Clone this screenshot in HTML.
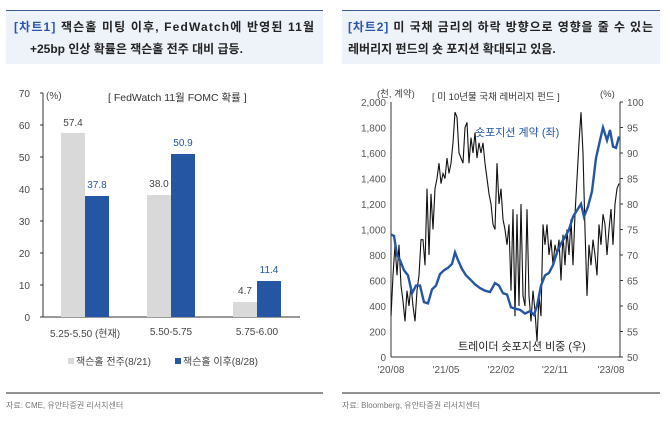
<!DOCTYPE html>
<html><head><meta charset="utf-8"><style>
body{margin:0;width:670px;height:416px;background:#fff;font-family:"Liberation Sans","Noto Sans CJK KR",sans-serif;overflow:hidden}
svg text{font-family:"Liberation Sans","Noto Sans CJK KR",sans-serif}
</style></head><body>
<svg id="s" width="670" height="416" xmlns="http://www.w3.org/2000/svg">
<rect x="6" y="10" width="317" height="54" fill="#eef3fa"/><line x1="6" y1="10.5" x2="323" y2="10.5" stroke="#3a5a8a"/>
<rect x="342" y="10" width="318" height="54" fill="#eef3fa"/><line x1="342" y1="10.5" x2="660" y2="10.5" stroke="#3a5a8a"/>
<text x="14" y="31" font-size="12" font-weight="bold" fill="#222" textLength="300" lengthAdjust="spacing"><tspan fill="#2b55a8">[차트1]</tspan> 잭슨홀 미팅 이후, FedWatch에 반영된 11월</text>
<text x="30" y="53" font-size="12" font-weight="bold" fill="#222">+25bp 인상 확률은 잭슨홀 전주 대비 급등.</text>
<text x="348" y="31" font-size="12" font-weight="bold" fill="#222" textLength="305" lengthAdjust="spacing"><tspan fill="#2b55a8">[차트2]</tspan> 미 국채 금리의 하락 방향으로 영향을 줄 수 있는</text>
<text x="348" y="53" font-size="12" font-weight="bold" fill="#222">레버리지 펀드의 숏 포지션 확대되고 있음.</text>
<g font-size="10" fill="#444" text-anchor="end">
<text x="30" y="97">70</text><text x="30" y="129">60</text><text x="30" y="161">50</text><text x="30" y="193">40</text><text x="30" y="225">30</text><text x="30" y="257">20</text><text x="30" y="289">10</text><text x="30" y="321">0</text></g>
<text x="46" y="99" font-size="10" fill="#444">(%)</text>
<text x="108" y="101" font-size="10.5" fill="#333">[ FedWatch 11월 FOMC 확률 ]</text>
<line x1="43" y1="93" x2="43" y2="317" stroke="#333"/><line x1="40" y1="317" x2="300" y2="317" stroke="#333"/>
<g stroke="#333"><line x1="40" y1="93" x2="43" y2="93"/><line x1="40" y1="125" x2="43" y2="125"/><line x1="40" y1="157" x2="43" y2="157"/><line x1="40" y1="189" x2="43" y2="189"/><line x1="40" y1="221" x2="43" y2="221"/><line x1="40" y1="253" x2="43" y2="253"/><line x1="40" y1="285" x2="43" y2="285"/></g>
<g fill="#d9d9d9"><rect x="61" y="133" width="24" height="184"/><rect x="147" y="195" width="24" height="122"/><rect x="233" y="302" width="24" height="15"/></g>
<g fill="#2456a4"><rect x="85" y="196" width="24" height="121"/><rect x="171" y="154" width="24" height="163"/><rect x="257" y="281" width="24" height="36"/></g>
<g font-size="10" text-anchor="middle"><text x="73" y="126" fill="#444">57.4</text><text x="97" y="188" fill="#2456a4">37.8</text><text x="159" y="187" fill="#444">38.0</text><text x="183" y="146" fill="#2456a4">50.9</text><text x="245" y="294" fill="#444">4.7</text><text x="269" y="273" fill="#2456a4">11.4</text>
<text x="85" y="337" fill="#444">5.25-5.50 (현재)</text><text x="171" y="335" fill="#444">5.50-5.75</text><text x="257" y="335" fill="#444">5.75-6.00</text></g>
<rect x="68" y="358" width="6" height="6" fill="#d9d9d9"/><text x="76" y="365" font-size="10" fill="#444">잭슨홀 전주(8/21)</text>
<rect x="175" y="358" width="6" height="6" fill="#2456a4"/><text x="183" y="365" font-size="10" fill="#444">잭슨홀 이후(8/28)</text>
<line x1="6" y1="393" x2="323" y2="393" stroke="#222"/><line x1="342" y1="393" x2="660" y2="393" stroke="#222"/>
<text x="6" y="408" font-size="8" fill="#777">자료: CME, 유안타증권 리서치센터</text>
<text x="342" y="408" font-size="8" fill="#777">자료: Bloomberg, 유안타증권 리서치센터</text>
<g font-size="10" fill="#555" text-anchor="end" id="ly"></g>
<g font-size="10" fill="#555" id="ry"></g>
<text x="377" y="97" font-size="9.5" fill="#444">(천, 계약)</text>
<text x="432" y="100" font-size="9.5" fill="#333">[ 미 10년물 국채 레버리지 펀드 ]</text>
<text x="600" y="97" font-size="9.5" fill="#444">(%)</text>
<line x1="391" y1="102" x2="391" y2="357" stroke="#333"/><line x1="620" y1="102" x2="620" y2="357" stroke="#333"/><line x1="391" y1="357" x2="620" y2="357" stroke="#333"/>
<g font-size="10" fill="#555" text-anchor="middle"><text x="391" y="373">'20/08</text><text x="446" y="373">'21/05</text><text x="501" y="373">'22/02</text><text x="555" y="373">'22/11</text><text x="611" y="373">'23/08</text></g>
<polyline id="bk" fill="none" stroke="#111" stroke-width="1.1"/>
<polyline id="bl" fill="none" stroke="#2456a4" stroke-width="2.4"/>
<text x="475" y="136" font-size="11" fill="#2456a4">숏포지션 계약 (좌)</text>
<text x="458" y="350" font-size="11" fill="#222">트레이더 숏포지션 비중 (우)</text>
</svg>
<script>
var NS="http://www.w3.org/2000/svg",ly=document.getElementById('ly'),ry=document.getElementById('ry');
for(var i=0;i<=10;i++){var v=i*200,y=357-i*25.5;var t=document.createElementNS(NS,'text');t.setAttribute('x',386);t.setAttribute('y',y+4);t.textContent=v>=1000?(v/1000|0)+','+String(v%1000).padStart(3,'0'):v;ly.appendChild(t);
var l=document.createElementNS(NS,'line');l.setAttribute('x1',620);l.setAttribute('x2',623);l.setAttribute('y1',y);l.setAttribute('y2',y);l.setAttribute('stroke','#333');ry.appendChild(l);
var t2=document.createElementNS(NS,'text');t2.setAttribute('x',627);t2.setAttribute('y',y+4);t2.textContent=50+i*5;ry.appendChild(t2);}
var bl=[[391,960],[394,950],[397,800],[400,760],[404,680],[408,640],[412,500],[416,560],[420,560],[424,430],[428,420],[432,530],[436,560],[440,650],[444,680],[448,700],[452,730],[455,820],[458,760],[462,690],[466,640],[470,610],[475,570],[480,540],[485,520],[490,510],[495,580],[499,560],[503,500],[507,490],[511,390],[515,380],[520,370],[525,340],[530,360],[534,330],[537,400],[541,560],[545,640],[549,660],[553,720],[557,820],[561,890],[565,940],[569,1000],[573,1100],[577,1150],[581,1200],[584,1100],[588,1180],[592,1300],[596,1560],[600,1700],[603,1800],[607,1700],[610,1780],[613,1650],[616,1640],[619,1730]];
document.getElementById('bl').setAttribute('points',bl.map(p=>p[0]+','+(357-p[1]*0.1275).toFixed(1)).join(' '));
var bk=[[391,58],[393,66],[395,72],[397,66],[399,72],[401,64],[403,61],[405,57],[407,63],[409,60],[411,64],[413,60],[415,57],[417,63],[419,66],[421,73],[423,73],[425,68],[427,83],[429,70],[431,82],[433,75],[435,83],[437,85],[439,88],[441,84],[443,86],[445,85],[447,89],[449,86],[451,88],[453,92],[455,98],[457,97],[459,90],[461,89],[463,88],[465,95],[467,96],[469,88],[471,93],[473,90],[475,94],[477,89],[479,92],[481,90],[483,92],[485,88],[487,85],[489,82],[491,80],[493,76],[495,75],[497,88],[499,80],[501,83],[503,77],[505,75],[507,72],[509,76],[511,63],[513,79],[515,58],[517,78],[519,60],[521,80],[523,62],[525,60],[527,79],[529,62],[531,57],[533,63],[535,59],[537,53],[539,62],[541,58],[543,76],[545,72],[547,76],[549,70],[551,73],[553,68],[555,72],[557,70],[559,73],[561,65],[563,74],[565,68],[567,75],[569,70],[571,77],[573,68],[575,78],[577,85],[579,92],[581,98],[583,90],[585,75],[587,62],[589,72],[591,68],[593,73],[595,70],[597,66],[599,76],[601,72],[603,78],[605,76],[607,70],[609,75],[611,79],[613,72],[615,80],[617,83],[619,84]];
document.getElementById('bk').setAttribute('points',bk.map(p=>p[0]+','+(357-(p[1]-50)*5.1).toFixed(1)).join(' '));
</script>
</body></html>
